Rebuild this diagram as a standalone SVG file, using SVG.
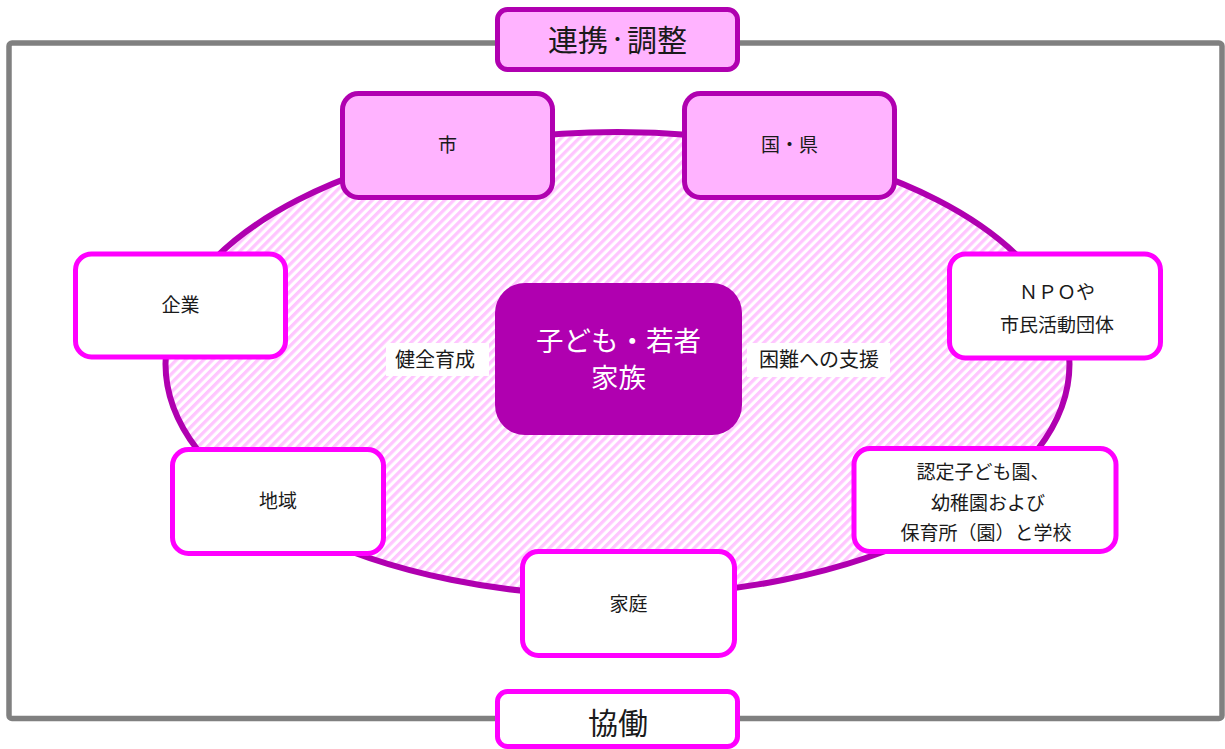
<svg xmlns="http://www.w3.org/2000/svg" width="1225" height="749" viewBox="0 0 1225 749">
<defs>
<pattern id="hatch" patternUnits="userSpaceOnUse" width="6.4" height="6.4" patternTransform="rotate(45)">
<rect x="0" y="0" width="3.3" height="6.4" fill="#ffc6ff"/>
</pattern>
<style>
.t{font-family:"Noto Sans CJK JP","Noto Sans",sans-serif;fill:#1a1a1a;text-anchor:middle;font-size:19px}
.big{font-size:30px}
.pink rect{fill:#ffb3ff;stroke:#b000b0;stroke-width:5}
.white rect{fill:#ffffff;stroke:#ff00ff;stroke-width:5}
</style>
</defs>
<rect width="1225" height="749" fill="#ffffff"/>
<g id="frame">
<rect x="9" y="43" width="1213" height="675.5" rx="3" fill="none" stroke="#808080" stroke-width="5.5"/>
</g>
<g id="circle">
<ellipse cx="617.5" cy="364" rx="452" ry="232" fill="#ffffff"/>
<ellipse cx="617.5" cy="364" rx="452" ry="232" fill="url(#hatch)" stroke="#b000b0" stroke-width="6"/>
</g>
<g id="connectors"></g>
<g id="label-kenzen">
<rect x="386" y="343" width="103" height="33" fill="#ffffff"/>
<text class="t" x="435" y="367" style="font-size:20px">健全育成</text>
</g>
<g id="label-konnan">
<rect x="747" y="343" width="143" height="34" fill="#ffffff"/>
<text class="t" x="819" y="367" style="font-size:20px">困難への支援</text>
</g>
<g id="center">
<rect x="495" y="283" width="247" height="152" rx="30" fill="#b000b0"/>
<text class="t" style="font-size:27.5px;fill:#ffffff"><tspan x="618.5" y="351">子ども・若者</tspan><tspan x="618.5" y="388">家族</tspan></text>
</g>
<g id="renkei" class="pink">
<rect x="497.5" y="9.5" width="240" height="60" rx="10"/>
<text class="t big" x="617.5" y="51">連携<tspan style="font-size:19px" dy="-4">・</tspan><tspan dy="4">調整</tspan></text>
</g>
<g id="shi" class="pink">
<rect x="342.5" y="93.5" width="210" height="104" rx="16"/>
<text class="t" x="447.5" y="152">市</text>
</g>
<g id="kuniken" class="pink">
<rect x="684.5" y="93.5" width="210" height="104" rx="16"/>
<text class="t" x="789.5" y="152">国・県</text>
</g>
<g id="kigyo" class="white">
<rect x="75.5" y="254" width="210" height="103" rx="16"/>
<text class="t" x="180.5" y="312">企業</text>
</g>
<g id="npo" class="white">
<rect x="949.5" y="254" width="211" height="104" rx="16"/>
<text class="t" x="1057" y="299">ＮＰＯや</text>
<text class="t" x="1057" y="332">市民活動団体</text>
</g>
<g id="chiiki" class="white">
<rect x="172.5" y="449.5" width="211" height="104" rx="16"/>
<text class="t" x="278" y="508">地域</text>
</g>
<g id="kodomoen" class="white">
<rect x="854" y="448.5" width="262" height="103" rx="16"/>
<text class="t" x="983" y="479">認定子ども園、</text>
<text class="t" x="988" y="510">幼稚園および</text>
<text class="t" x="986" y="540">保育所（園）と学校</text>
</g>
<g id="katei" class="white">
<rect x="522.5" y="551.5" width="212" height="104" rx="16"/>
<text class="t" x="628.5" y="611">家庭</text>
</g>
<g id="kyodo" class="white">
<rect x="497.5" y="691.5" width="240" height="55" rx="10"/>
<text class="t big" x="618" y="734">協働</text>
</g>
</svg>
